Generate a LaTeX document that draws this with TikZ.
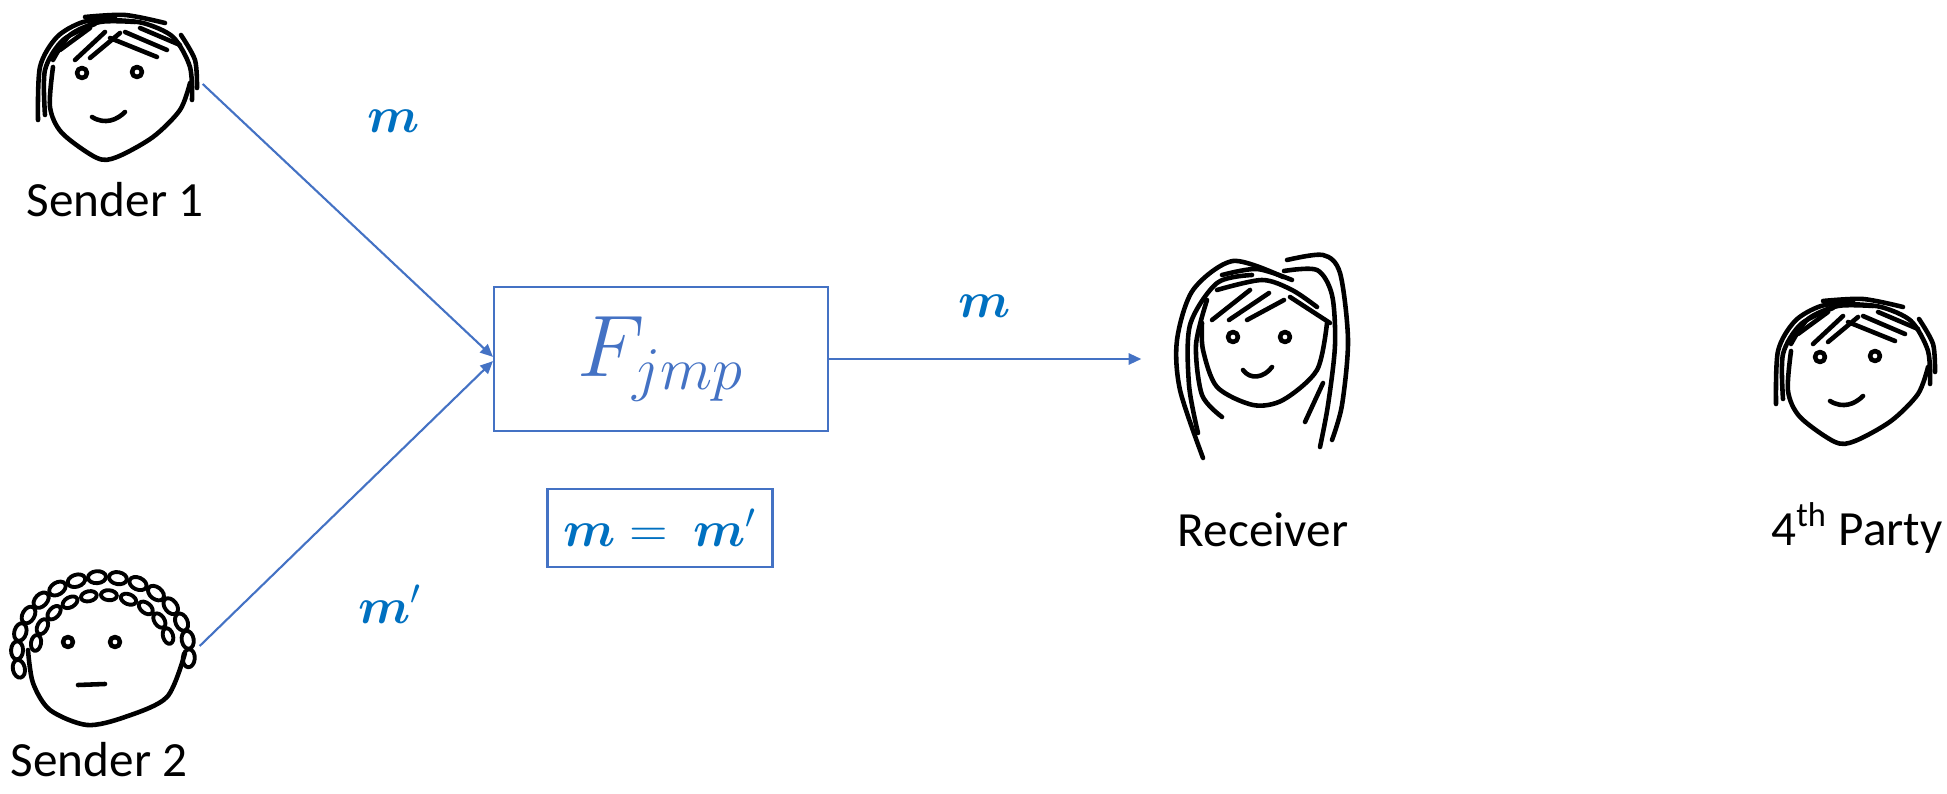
\documentclass[tikz,border=0pt]{standalone}
\usepackage{amsmath,bm}
\usepackage{fontspec}
\setmainfont{Carlito}
\usetikzlibrary{arrows.meta, positioning}

\definecolor{boxblue}{HTML}{4472C4}
\definecolor{msgblue}{HTML}{0070C0}

\tikzset{
  sketch/.style={line width=1.3pt, line cap=round, line join=round},
  party/.style={minimum height=16mm, inner sep=0pt},
  who/.style={font=\fontsize{14}{17}\selectfont},
  msg/.style={text=msgblue, font=\fontsize{14}{16}\selectfont},
  link/.style={draw=boxblue, line width=0.6pt, ->},
  % short-haired face
  boyface/.pic={
    \draw[sketch] plot[smooth] coordinates {(-62,-23) (-65,17) (-53,43) (-18,68) (2,67) (38,47) (65,20) (75,-7)};
    \draw[sketch] plot[smooth] coordinates {(-30,-73) (10,-75) (50,-67)};
    \draw[sketch] plot[smooth] coordinates {(-77,30) (-75,-23) (-58,-53) (-32,-68) (0,-72)};
    \draw[sketch] plot[smooth] coordinates {(-70,25) (-70,-20) (-52,-50) (-20,-66)};
    \draw[sketch] plot[smooth] coordinates {(-62,-30) (-45,-55) (-15,-68) (20,-68)};
    \draw[sketch] plot[smooth] coordinates {(77,10) (75,-23) (58,-53) (28,-67) (-5,-70)};
    \draw[sketch] plot[smooth] coordinates {(82,-2) (80,-30) (66,-55)};
    \draw[sketch] (-40,-30) -- (-10,-58) (-25,-32) -- (5,-57) (-55,-40) -- (-25,-62);
    \draw[sketch] (-5,-52) -- (42,-33) (10,-58) -- (52,-40) (25,-62) -- (65,-45);
    \draw[sketch] (-33,-17) circle (5) (22,-18) circle (5);
    \draw[sketch] (-23,27) .. controls (-10,35) and (2,30) .. (10,22);
  },
  % curly-haired face
  curlyface/.pic={
    \draw[sketch] plot[smooth] coordinates {(-77,5) (-72,38) (-55,65) (-18,80) (20,72) (62,52) (80,8)};
    \foreach \a in {192,178,...,-12}
      \draw[sketch, line width=1.1pt, rotate around={\a:({-2+86*cos(\a)},{8-76*sin(\a)})}]
        ({-2+86*cos(\a)},{8-76*sin(\a)}) ellipse (6 and 9);
    \foreach \a in {170,153,...,10}
      \draw[sketch, line width=1.1pt, rotate around={\a:({-2+68*cos(\a)},{8-58*sin(\a)})}]
        ({-2+68*cos(\a)},{8-58*sin(\a)}) ellipse (5 and 8);
    \draw[sketch] (-37,-3) circle (5) (10,-3) circle (5);
    \draw[sketch] (-27,40) -- (0,39);
  },
  % long-haired face
  girlface/.pic={
    \draw[sketch] plot[smooth] coordinates {(-60,-22) (-59,5) (-45,42) (-9,60) (21,55) (55,25) (65,-22)};
    \draw[sketch] plot[smooth] coordinates {(21,-68) (-29,-84) (-69,-55) (-85,-5) (-82,45) (-59,113)};
    \draw[sketch] plot[smooth] coordinates {(-10,-70) (-45,-62) (-72,-20) (-73,40) (-64,88)};
    \draw[sketch] plot[smooth] coordinates {(-55,-45) (-66,0) (-60,50) (-40,72)};
    \draw[sketch] plot[smooth] coordinates {(25,-85) (61,-90) (78,-72) (86,-5) (80,60) (70,95)};
    \draw[sketch] plot[smooth] coordinates {(22,-74) (55,-75) (70,-50) (73,0) (66,60) (58,102)};
    \draw[sketch] (43,77) -- (61,38);
    \draw[sketch] plot[smooth] coordinates {(-45,-55) (0,-65) (30,-55) (55,-38)};
    \draw[sketch] plot[smooth] coordinates {(-40,-70) (-5,-76) (30,-65)};
    \draw[sketch] (-50,-25) -- (-12,-55) (-33,-25) -- (7,-52) (-15,-25) -- (22,-45) (28,-48) -- (68,-22);
    \draw[sketch] (-29,-8) circle (5) (23,-8) circle (5);
    \draw[sketch] (-19,25) .. controls (-12,35) and (2,33) .. (10,22);
  }
}

\begin{document}
\begin{tikzpicture}[x=0.1mm, y=-0.1mm, >={Triangle[length=3.6pt,width=3.2pt]}]
  \useasboundingbox (0,0) rectangle (1947,794);

  % the four parties
  \node[party, minimum width=17.4mm] (s1) at (115,84) {};
  \node[party, minimum width=19.8mm] (s2) at (100,646) {};
  \node[party, minimum width=24mm] (rcv) at (1262,359) {};
  \node[party, minimum width=17mm] (fourth) at (1853,374) {};

  \pic at (115,90) {boyface};
  \pic at (105,645) {curlyface};
  \pic at (1262,345) {girlface};
  \pic at (1853,374) {boyface};

  \node[who] (s1name) at (115,200) {Sender 1};
  \node[who] (s2name) at (99,760) {Sender 2};
  \node[who] (rcvname) at (1263,530) {Receiver};
  \node[who] (fourthname) at (1857,528) {4\textsuperscript{th} Party};

  % functionality and check
  \node[draw=boxblue, line width=0.6pt, minimum width=33.4mm, minimum height=14.4mm, inner sep=0pt,
        text=boxblue, font=\fontsize{24}{26}\selectfont] (F) at (661,359) {$F_{jmp}$};
  \node[draw=boxblue, line width=0.6pt, minimum width=22.5mm, minimum height=7.8mm, inner sep=0pt,
        msg] (eq) at (660,528) {$\bm{m} =\ \bm{m}'$};

  % messages
  \draw[link] (s1.east) -- ([yshift=0.6pt]F.west);
  \draw[link] (s2.east) -- ([yshift=-0.6pt]F.west);
  \draw[link] (F.east) -- (rcv.west);

  \node[msg, anchor=base] (m1) at (394,133) {$\bm{m}$};
  \node[msg, anchor=base] (m2) at (390,623) {$\bm{m}'$};
  \node[msg, anchor=base] (m3) at (985,318) {$\bm{m}$};
\end{tikzpicture}
\end{document}
